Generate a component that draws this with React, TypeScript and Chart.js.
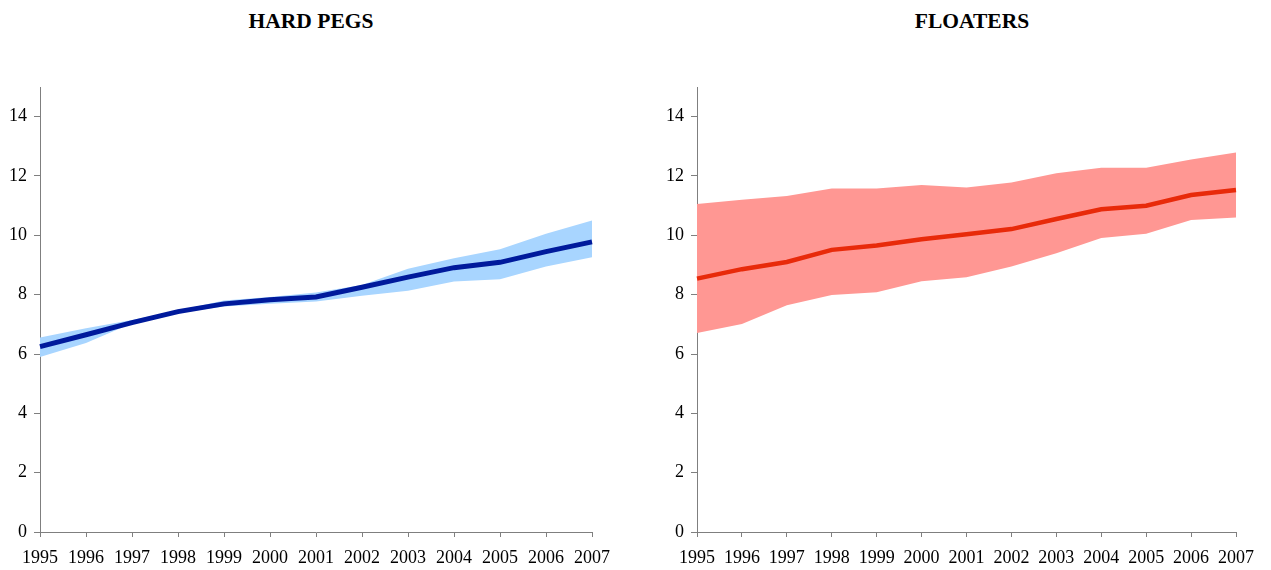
import React, { useEffect, useRef } from "react";
import { Chart, registerables } from "chart.js";

Chart.register(...registerables);

const years = ["1995","1996","1997","1998","1999","2000","2001","2002","2003","2004","2005","2006","2007"];

const pegsMean = [6.25, 6.65, 7.06, 7.43, 7.69, 7.83, 7.92, 8.25, 8.59, 8.91, 9.09, 9.45, 9.78];
const pegsUpper = [6.56, 6.87, 7.15, 7.47, 7.80, 7.92, 8.07, 8.33, 8.87, 9.23, 9.53, 10.05, 10.50];
const pegsLower = [5.90, 6.37, 7.04, 7.38, 7.60, 7.69, 7.77, 7.96, 8.13, 8.44, 8.52, 8.95, 9.26];

const floatMean = [8.54, 8.86, 9.10, 9.51, 9.66, 9.87, 10.04, 10.21, 10.55, 10.88, 11.0, 11.36, 11.53];
const floatUpper = [11.06, 11.20, 11.33, 11.58, 11.58, 11.70, 11.61, 11.78, 12.09, 12.28, 12.28, 12.56, 12.79];
const floatLower = [6.71, 7.01, 7.64, 7.99, 8.08, 8.45, 8.59, 8.95, 9.40, 9.91, 10.05, 10.52, 10.60];

const yTicks = [0, 2, 4, 6, 8, 10, 12, 14];

const FONT = "'Liberation Serif', 'Times New Roman', serif";
const AXIS = "#7f7f7f";

function makeConfig(mean: number[], upper: number[], lower: number[], lineColor: string, bandColor: string, lineWidth: number, rightPad: number): any {
  return {
    type: "line",
    data: {
      labels: years,
      datasets: [
        { data: mean, borderColor: lineColor, borderWidth: lineWidth, pointRadius: 0, fill: false, tension: 0 },
        { data: upper, borderWidth: 0, borderColor: bandColor, backgroundColor: bandColor, pointRadius: 0, fill: "+1", tension: 0 },
        { data: lower, borderWidth: 0, borderColor: bandColor, backgroundColor: bandColor, pointRadius: 0, fill: false, tension: 0 },
      ],
    },
    options: {
      animation: false,
      responsive: false,
      maintainAspectRatio: false,
      layout: { padding: { top: 27, right: rightPad, left: 0, bottom: 0 } },
      plugins: { legend: { display: false }, tooltip: { enabled: false }, title: { display: false } },
      scales: {
        x: {
          type: "category",
          offset: false,
          grid: { display: true, drawOnChartArea: false, drawTicks: true, tickLength: 5, color: AXIS },
          border: { display: true, color: AXIS, width: 1 },
          ticks: { color: "#000", font: { family: FONT, size: 18 }, padding: 10, maxRotation: 0, autoSkip: false },
          afterFit: (s: any) => { s.height = 38; },
        },
        y: {
          min: 0,
          max: 15,
          grid: { display: true, drawOnChartArea: false, drawTicks: true, tickLength: 6, color: AXIS },
          border: { display: true, color: AXIS, width: 1 },
          ticks: { color: "#000", font: { family: FONT, size: 18 }, padding: 7, stepSize: 2 },
          afterBuildTicks: (s: any) => { s.ticks = yTicks.map((v) => ({ value: v })); },
          afterFit: (s: any) => { s.width = 40; },
        },
      },
    },
  };
}

function Panel(props: { left: number; width: number; cfg: any }) {
  const ref = useRef<HTMLCanvasElement>(null);
  useEffect(() => {
    const c = new Chart(ref.current as HTMLCanvasElement, props.cfg);
    return () => c.destroy();
  }, []);
  return (
    <canvas
      ref={ref}
      width={props.width}
      height={510}
      style={{ position: "absolute", left: props.left, top: 60, width: props.width, height: 510 }}
    />
  );
}

export default function App() {
  const titleStyle: React.CSSProperties = {
    position: "absolute",
    top: 10,
    fontFamily: FONT,
    fontWeight: "bold",
    fontSize: 21.5,
    lineHeight: "22px",
    color: "#000",
    textAlign: "center",
    width: 300,
    whiteSpace: "nowrap",
  };
  return (
    <div style={{ position: "absolute", left: 0, top: 0, width: 1271, height: 570, background: "#fff", overflow: "hidden" }}>
      <div style={{ ...titleStyle, left: 311 - 150 }}>HARD PEGS</div>
      <div style={{ ...titleStyle, left: 972 - 150 }}>FLOATERS</div>
      <Panel left={0} width={620} cfg={makeConfig(pegsMean, pegsUpper, pegsLower, "#001a9c", "#a8d5ff", 5, 28)} />
      <Panel left={657} width={607} cfg={makeConfig(floatMean, floatUpper, floatLower, "#e82a0a", "#ff9793", 4.5, 22)} />
    </div>
  );
}
